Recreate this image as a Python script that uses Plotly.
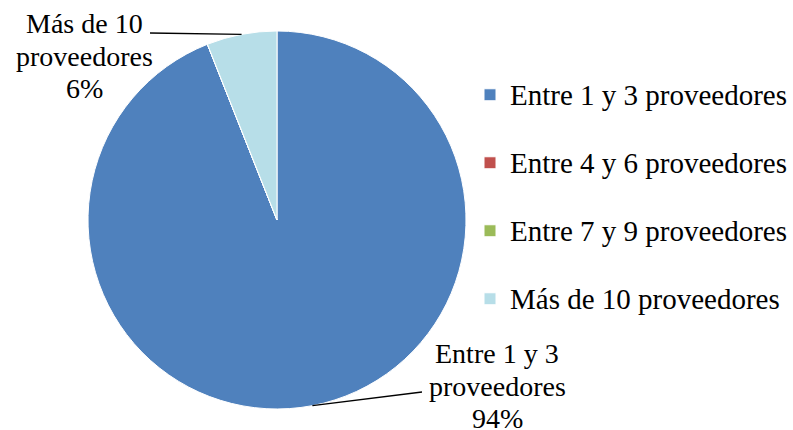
import math
import plotly.graph_objects as go

categories = ["Entre 1 y 3 proveedores", "Entre 4 y 6 proveedores",
              "Entre 7 y 9 proveedores", "Más de 10 proveedores"]
values = [94, 0, 0, 6]
colors = ["#4F81BD", "#C0504D", "#9BBB59", "#B7DEE8"]
slice_label_lines = [["Entre 1 y 3", "proveedores", "94%"], None, None,
                     ["Más de 10", "proveedores", "6%"]]

W, H = 793, 430
CX, CY, R = 277, 220, 189  # pie center / radius in px
FONT = "Liberation Serif"
LBL_SIZE = 28
LINE_GAP = 32.5

legend_text = ['<span style="font-size:29px">%s</span><br> ' % c for c in categories]

fig = go.Figure(go.Pie(
    labels=legend_text,
    values=values,
    marker=dict(colors=colors, line=dict(color="white", width=1)),
    sort=False,
    direction="clockwise",
    rotation=0,
    textinfo="none",
    hoverinfo="none",
    domain=dict(x=[(CX - R) / W, (CX + R) / W], y=[(H - CY - R) / H, (H - CY + R) / H]),
))

# label layout (px): center x, first-line center y, leader line end
label_pos = {0: dict(tx=497, ty=353.5, lx=422, ly=392),
             3: dict(tx=84, ty=23.5, lx=150, ly=33)}

total = sum(values)
cum = 0
for i, v in enumerate(values):
    mid = (cum + v / 2) / total * 2 * math.pi
    cum += v
    if i not in label_pos:
        continue
    ex = CX + R * math.sin(mid)
    ey = CY - R * math.cos(mid)
    p = label_pos[i]
    fig.add_shape(type="line", xref="paper", yref="paper",
                  x0=ex / W, y0=1 - ey / H, x1=p["lx"] / W, y1=1 - p["ly"] / H,
                  line=dict(color="black", width=1.3))
    for k, line in enumerate(slice_label_lines[i]):
        fig.add_annotation(text=line, x=p["tx"] / W, y=1 - (p["ty"] + k * LINE_GAP) / H,
                           xref="paper", yref="paper", showarrow=False,
                           xanchor="center", yanchor="middle",
                           font=dict(family=FONT, size=LBL_SIZE, color="black"))

fig.update_layout(
    width=W, height=H,
    margin=dict(l=0, r=0, t=0, b=0),
    paper_bgcolor="white", plot_bgcolor="white",
    font=dict(family=FONT, color="black"),
    showlegend=True,
    legend=dict(x=470 / W, y=1 - 72 / H, xanchor="left", yanchor="top",
                font=dict(family=FONT, size=25, color="black"),
                valign="top", itemclick=False),
)

fig.write_html("out.html", config={"displayModeBar": False},
               post_script="document.body.style.margin='0';document.body.style.overflow='hidden';")
